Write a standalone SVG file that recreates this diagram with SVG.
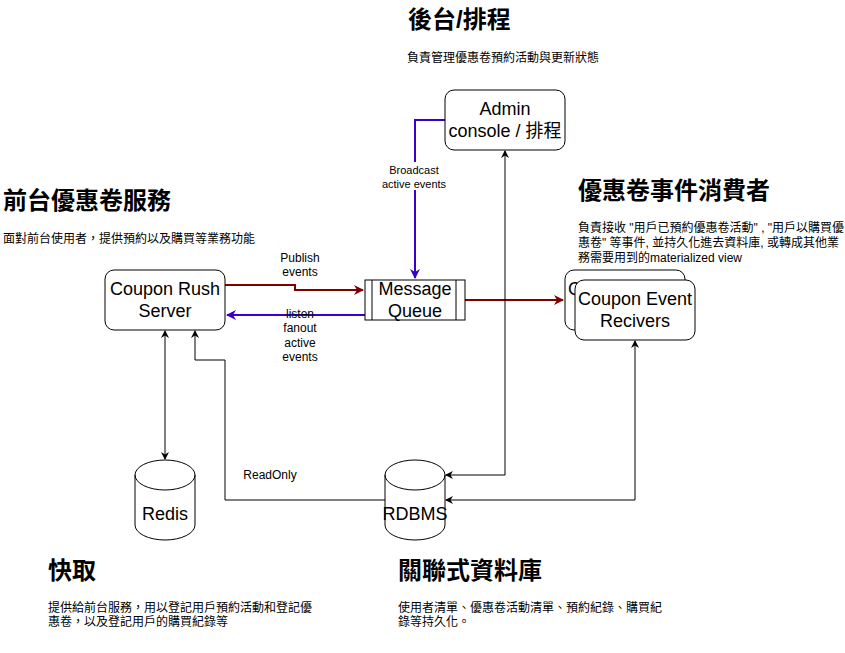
<svg xmlns="http://www.w3.org/2000/svg" width="845" height="653" viewBox="0 0 845 653">
  <defs>
    <style>
      text { font-family: "Liberation Sans", "Noto Sans CJK TC", Arial, sans-serif; fill: #000; }
      .node { fill: #fff; stroke: #000; stroke-width: 1; }
      .lbl { font-size: 18px; text-anchor: middle; }
      .title { font-size: 24px; font-weight: bold; }
      .desc { font-size: 12px; }
      .elbl { font-size: 12px; text-anchor: middle; }
      .elbl-s { font-size: 11px; text-anchor: middle; }
      .red { fill: none; stroke: #800000; stroke-width: 2; }
      .blue { fill: none; stroke: #3700CC; stroke-width: 2; }
      .blk { fill: none; stroke: #000; stroke-width: 1; }
    </style>
    <marker id="arRed" markerWidth="10" markerHeight="10" refX="9" refY="5" orient="auto" markerUnits="userSpaceOnUse">
      <path d="M0,0 L10,5 L0,10 L3,5 Z" fill="#800000"/>
    </marker>
    <marker id="arBlue" markerWidth="10" markerHeight="10" refX="9" refY="5" orient="auto" markerUnits="userSpaceOnUse">
      <path d="M0,0 L10,5 L0,10 L3,5 Z" fill="#3700CC"/>
    </marker>
    <marker id="arBlk" markerWidth="8" markerHeight="8" refX="7" refY="4" orient="auto-start-reverse" markerUnits="userSpaceOnUse">
      <path d="M0,0 L8,4 L0,8 L2.5,4 Z" fill="#000"/>
    </marker>
  </defs>

  <rect width="845" height="653" fill="#fff"/>

  <!-- section headings and descriptions -->
  <g id="texts">
    <text class="title" x="408" y="28">後台/排程</text>
    <text class="desc" x="407" y="62">負責管理優惠卷預約活動與更新狀態</text>

    <text class="title" x="3" y="209">前台優惠卷服務</text>
    <text class="desc" x="3" y="243">面對前台使用者，提供預約以及購買等業務功能</text>

    <text class="title" x="578" y="199">優惠卷事件消費者</text>
    <text class="desc" x="578" y="232">負責接收 "用戶已預約優惠卷活動" , "用戶以購買優</text>
    <text class="desc" x="578" y="247">惠卷" 等事件, 並持久化進去資料庫, 或轉成其他業</text>
    <text class="desc" x="578" y="262">務需要用到的materialized view</text>

    <text class="title" x="48" y="579">快取</text>
    <text class="desc" x="48" y="612">提供給前台服務，用以登記用戶預約活動和登記優</text>
    <text class="desc" x="48" y="626">惠卷，以及登記用戶的購買紀錄等</text>

    <text class="title" x="398" y="579">關聯式資料庫</text>
    <text class="desc" x="398" y="612">使用者清單、優惠卷活動清單、預約紀錄、購買紀</text>
    <text class="desc" x="398" y="626">錄等持久化。</text>
  </g>

  <!-- connectors -->
  <g id="connectors">
    <!-- publish events -->
    <path class="red" d="M225,285 H295 V290 H363" marker-end="url(#arRed)"/>
    <text class="elbl" x="300" y="262">Publish</text>
    <text class="elbl" x="300" y="276">events</text>
    <!-- listen fanout -->
    <path class="blue" d="M365,315 H227" marker-end="url(#arBlue)"/>
    <text class="elbl" x="300" y="318">listen</text>
    <text class="elbl" x="300" y="332">fanout</text>
    <text class="elbl" x="300" y="347">active</text>
    <text class="elbl" x="300" y="361">events</text>
    <!-- broadcast -->
    <path class="blue" d="M445,120 H415 V278" marker-end="url(#arBlue)"/>
    <rect x="381" y="162" width="68" height="28" fill="#fff"/>
    <text class="elbl-s" x="414" y="174">Broadcast</text>
    <text class="elbl-s" x="414" y="188">active events</text>
    <!-- MQ to consumers -->
    <path class="red" d="M465,300 H563" marker-end="url(#arRed)"/>
    <!-- admin <-> RDBMS -->
    <path class="blk" d="M505,151 V475 H446" marker-start="url(#arBlk)" marker-end="url(#arBlk)"/>
    <!-- consumers <-> RDBMS -->
    <path class="blk" d="M635,341 V500 H446" marker-start="url(#arBlk)" marker-end="url(#arBlk)"/>
    <!-- server <-> redis -->
    <path class="blk" d="M165,331 V459" marker-start="url(#arBlk)" marker-end="url(#arBlk)"/>
    <!-- RDBMS read-only to server -->
    <path class="blk" d="M385,500 H225 V360 H195 V331" marker-end="url(#arBlk)"/>
    <text class="elbl" x="270" y="479">ReadOnly</text>
  </g>

  <g id="admin-console">
    <rect class="node" x="445" y="90" width="120" height="60" rx="9"/>
    <text class="lbl" x="505" y="115">Admin</text>
    <text class="lbl" x="505" y="137">console / 排程</text>
  </g>

  <g id="coupon-rush-server">
    <rect class="node" x="105" y="270" width="120" height="60" rx="9"/>
    <text class="lbl" x="165" y="295">Coupon Rush</text>
    <text class="lbl" x="165" y="317">Server</text>
  </g>

  <g id="message-queue">
    <rect class="node" x="365" y="280" width="100" height="40"/>
    <line x1="372" y1="280" x2="372" y2="320" stroke="#000"/>
    <line x1="456" y1="280" x2="456" y2="320" stroke="#000"/>
    <text class="lbl" x="415" y="295">Message</text>
    <text class="lbl" x="415" y="317">Queue</text>
  </g>

  <g id="coupon-event-receivers">
    <rect class="node" x="565" y="270" width="120" height="60" rx="9"/>
    <text class="lbl" x="625" y="295">Coupon Event</text>
    <rect class="node" x="575" y="280" width="120" height="60" rx="9"/>
    <text class="lbl" x="635" y="305">Coupon Event</text>
    <text class="lbl" x="635" y="327">Recivers</text>
  </g>

  <g id="redis">
    <path class="node" d="M135,475 A30,15 0 0 1 195,475 V525 A30,15 0 0 1 135,525 Z"/>
    <path fill="none" stroke="#000" d="M135,475 A30,15 0 0 0 195,475"/>
    <text class="lbl" x="165" y="520">Redis</text>
  </g>

  <g id="rdbms">
    <path class="node" d="M385,475 A30,15 0 0 1 445,475 V525 A30,15 0 0 1 385,525 Z"/>
    <path fill="none" stroke="#000" d="M385,475 A30,15 0 0 0 445,475"/>
    <text class="lbl" x="415" y="520">RDBMS</text>
  </g>
</svg>
